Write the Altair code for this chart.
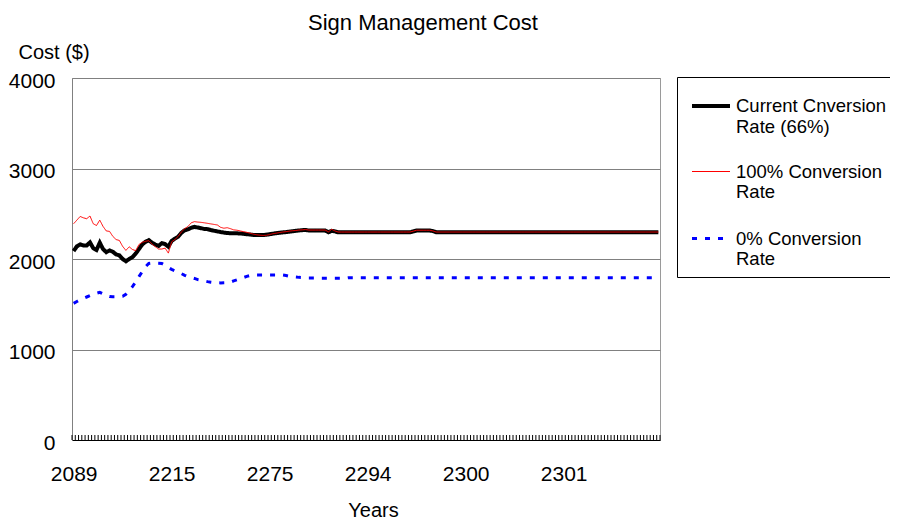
import json
import altair as alt
import pandas as pd

FONT = "Liberation Sans"

chart_title = "Sign Management Cost"
y_title = "Cost ($)"
x_title = "Years"
x_labels = ["2089", "2215", "2275", "2294", "2300", "2301"]
label_every = 30
n_cat = 180
y_ticks = [0, 1000, 2000, 3000, 4000]

series_names = ["Current Cnversion\nRate (66%)", "100% Conversion\nRate", "0% Conversion\nRate"]
series_colors = ["#000000", "#FF0000", "#0000FF"]

current_rate = [
    2088, 2140, 2162, 2150, 2150, 2184, 2120, 2100, 2180, 2110,
    2075, 2095, 2080, 2050, 2040, 2000, 1975, 2000, 2020, 2060,
    2110, 2160, 2190, 2208, 2180, 2160, 2145, 2175, 2165, 2136,
    2200, 2225, 2247, 2290, 2318, 2328, 2345, 2355, 2348, 2340,
    2332, 2330, 2320, 2312, 2305, 2298, 2292, 2287, 2285, 2284,
    2284, 2282, 2278, 2274, 2270, 2266, 2265, 2264, 2265, 2268,
    2274, 2280, 2285, 2290, 2294, 2297, 2302, 2307, 2311, 2315,
    2319, 2320, 2315, 2315, 2315, 2315, 2315, 2315, 2295, 2312,
    2305, 2295, 2295, 2295, 2295, 2295, 2295, 2295, 2295, 2295,
    2295, 2295, 2295, 2295, 2295, 2295, 2295, 2295, 2295, 2295,
    2295, 2295, 2295, 2295, 2305, 2315, 2315, 2315, 2315, 2315,
    2308, 2296, 2296, 2296, 2296, 2296, 2296, 2296, 2296, 2296,
    2296, 2296, 2296, 2296, 2296, 2296, 2296, 2296, 2296, 2296,
    2296, 2296, 2296, 2296, 2296, 2296, 2296, 2296, 2296, 2296,
    2296, 2296, 2296, 2296, 2296, 2296, 2296, 2296, 2296, 2296,
    2296, 2296, 2296, 2296, 2296, 2296, 2296, 2296, 2296, 2296,
    2296, 2296, 2296, 2296, 2296, 2296, 2296, 2296, 2296, 2296,
    2296, 2296, 2296, 2296, 2296, 2296, 2296, 2296, 2296, 2296,
]

full_rate = [
    2390, 2430, 2470, 2455, 2445, 2475, 2390, 2370, 2430, 2360,
    2310, 2305, 2250, 2215, 2205, 2140, 2095, 2135, 2105, 2092,
    2160, 2185, 2195, 2203, 2165, 2136, 2110, 2110, 2120, 2065,
    2190, 2215, 2250, 2300, 2335, 2360, 2400, 2413, 2408, 2405,
    2400, 2394, 2388, 2382, 2376, 2350, 2340, 2346, 2335, 2322,
    2318, 2310, 2302, 2295, 2285, 2275, 2268, 2263, 2260, 2262,
    2270, 2280, 2285, 2292, 2298, 2302, 2308, 2312, 2315, 2320,
    2322, 2325, 2320, 2320, 2320, 2320, 2320, 2320, 2300, 2328,
    2310, 2298, 2298, 2298, 2298, 2298, 2298, 2298, 2298, 2298,
    2298, 2298, 2298, 2298, 2298, 2298, 2298, 2298, 2298, 2298,
    2298, 2298, 2298, 2298, 2308, 2318, 2318, 2318, 2318, 2318,
    2310, 2298, 2298, 2298, 2298, 2298, 2298, 2298, 2298, 2298,
    2298, 2298, 2298, 2298, 2298, 2298, 2298, 2298, 2298, 2298,
    2298, 2298, 2298, 2298, 2298, 2298, 2298, 2298, 2298, 2298,
    2298, 2298, 2298, 2298, 2298, 2298, 2298, 2298, 2298, 2298,
    2298, 2298, 2298, 2298, 2298, 2298, 2298, 2298, 2298, 2298,
    2298, 2298, 2298, 2298, 2298, 2298, 2298, 2298, 2298, 2298,
    2298, 2298, 2298, 2298, 2298, 2298, 2298, 2298, 2298, 2298,
]

zero_rate = [
    1510, 1530, 1550, 1565, 1580, 1595, 1610, 1622, 1632, 1615,
    1598, 1585, 1584, 1584, 1584, 1588, 1610, 1650, 1695, 1745,
    1805, 1860, 1915, 1950, 1955, 1955, 1953, 1950, 1930, 1905,
    1885, 1870, 1855, 1838, 1820, 1805, 1795, 1785, 1772, 1765,
    1758, 1750, 1743, 1738, 1737, 1736, 1737, 1738, 1745, 1758,
    1770, 1780, 1795, 1808, 1818, 1823, 1823, 1823, 1823, 1823,
    1823, 1823, 1823, 1823, 1823, 1818, 1810, 1805, 1800, 1797,
    1795, 1793, 1790, 1790, 1790, 1786, 1786, 1786, 1786, 1786,
    1786, 1786, 1786, 1786, 1792, 1792, 1792, 1792, 1792, 1792,
    1792, 1792, 1792, 1792, 1792, 1792, 1792, 1792, 1792, 1792,
    1792, 1792, 1792, 1792, 1792, 1792, 1792, 1792, 1792, 1792,
    1792, 1792, 1792, 1792, 1792, 1792, 1792, 1792, 1792, 1792,
    1792, 1792, 1792, 1792, 1792, 1792, 1792, 1792, 1792, 1792,
    1792, 1792, 1792, 1792, 1792, 1792, 1792, 1792, 1792, 1792,
    1792, 1792, 1792, 1792, 1792, 1792, 1792, 1792, 1792, 1792,
    1792, 1792, 1792, 1792, 1792, 1792, 1792, 1792, 1792, 1792,
    1792, 1792, 1792, 1792, 1792, 1792, 1792, 1792, 1792, 1792,
    1792, 1792, 1792, 1792, 1792, 1792, 1792, 1792, 1792, 1792,
]

PLOT_W = 588
PLOT_H = 362

# draw order: blue, black, red on top
rows = []
for name, vals in [(series_names[2], zero_rate), (series_names[0], current_rate), (series_names[1], full_rate)]:
    for i, v in enumerate(vals):
        rows.append({"pos": i + 0.5, "cost": v, "series": name})
df = pd.DataFrame(rows)

# category boundaries for the small inward tick marks of the category axis
tick_df = pd.DataFrame({"pos": list(range(n_cat + 1))})

xscale = alt.Scale(domain=[0, n_cat], nice=False, zero=False)
yscale = alt.Scale(domain=[0, 4000], nice=False)

label_js = json.dumps(x_labels)

x_axis = alt.Axis(
    values=[k * label_every + 0.5 for k in range(len(x_labels))],
    labelExpr=f"{label_js}[floor(datum.value / {label_every})]",
    ticks=False,
    tickSize=0,
    grid=False,
    domainColor="black",
    domainWidth=1,
    labelFont=FONT,
    labelFontSize=21,
    labelColor="black",
    labelPadding=23,
    labelFlush=False,
    labelOverlap=False,
    title=x_title,
    titleFont=FONT,
    titleFontSize=20,
    titleFontWeight="normal",
    titleColor="black",
    titleX=301,
    titleY=76,
    titleBaseline="alphabetic",
)

legend = alt.Legend(
    title=None,
    orient="none",
    legendX=605,
    legendY=-1,
    direction="vertical",
    symbolType="stroke",
    symbolSize=1444,
    symbolOffset=5,
    labelExpr="split(datum.label, '\\n')",
    labelFont=FONT,
    labelFontSize=18.5,
    labelColor="black",
    labelLimit=400,
    labelOffset=4,
    labelBaseline="middle",
    strokeColor="black",
    fillColor="white",
    padding=8,
    rowPadding=16,
)

lines = alt.Chart(df).mark_line(strokeJoin="miter").encode(
    x=alt.X("pos:Q", scale=xscale, axis=x_axis),
    y=alt.Y(
        "cost:Q",
        scale=yscale,
        axis=alt.Axis(
            values=y_ticks,
            format="d",
            ticks=False,
            tickSize=0,
            grid=True,
            gridColor="#808080",
            gridWidth=1,
            domainColor="#808080",
            domainWidth=1,
            labelFont=FONT,
            labelFontSize=21,
            labelColor="black",
            labelPadding=17,
            labelOffset=3,
            title=y_title,
            titleFont=FONT,
            titleFontSize=20,
            titleFontWeight="normal",
            titleColor="black",
            titleAngle=0,
            titleAlign="left",
            titleBaseline="alphabetic",
            titleX=-54,
            titleY=-20,
        ),
    ),
    color=alt.Color("series:N", scale=alt.Scale(domain=series_names, range=series_colors), legend=legend),
    strokeDash=alt.StrokeDash(
        "series:N",
        scale=alt.Scale(domain=series_names, range=[[1, 0], [1, 0], [5, 8]]),
        legend=legend,
    ),
    strokeWidth=alt.StrokeWidth(
        "series:N",
        scale=alt.Scale(type="ordinal", domain=series_names, range=[4, 1, 3]),
        legend=legend,
    ),
    detail="series:N",
)

ticks = alt.Chart(tick_df).mark_rule(color="black", strokeWidth=1).encode(
    x=alt.X("pos:Q", scale=xscale, axis=x_axis),
    y=alt.value(PLOT_H),
    y2=alt.value(PLOT_H - 5),
)

chart = (
    alt.layer(lines, ticks)
    .properties(
        width=PLOT_W,
        height=PLOT_H,
        autosize="none",
        padding={"left": 64, "top": 70, "right": 230, "bottom": 79},
        background="white",
        title=alt.TitleParams(
            text=chart_title,
            font=FONT,
            fontSize=22,
            fontWeight="normal",
            color="black",
            anchor="middle",
            frame="group",
            dx=57,
            dy=-3,
        ),
    )
    .configure_view(stroke="#9a9a9a", strokeWidth=1)
)

chart.save("out.html", embed_options={"renderer": "svg", "actions": False})
